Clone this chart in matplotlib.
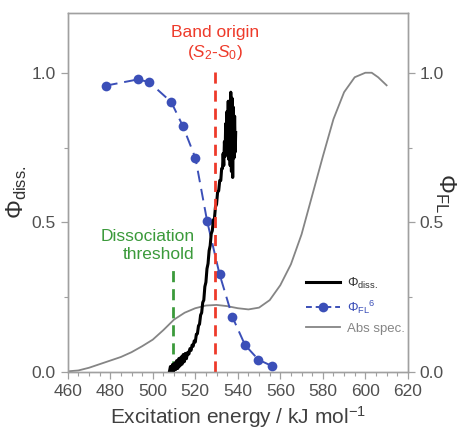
import matplotlib
matplotlib.use("Agg")
import matplotlib.pyplot as plt
from matplotlib.lines import Line2D
from matplotlib.ticker import MultipleLocator, FixedLocator

plt.rcParams['font.family'] = ['Liberation Sans', 'DejaVu Sans']
plt.rcParams['mathtext.fontset'] = 'custom'
plt.rcParams['mathtext.rm'] = 'Liberation Sans'
plt.rcParams['mathtext.it'] = 'Liberation Sans:italic'
plt.rcParams['mathtext.bf'] = 'Liberation Sans:bold'

# ---- data ----
fl_x = [478.0, 493.2, 498.4, 508.7, 514.2, 520.1, 525.6, 531.4, 537.5, 543.4, 549.7, 556.3]
fl_y = [0.957, 0.978, 0.968, 0.902, 0.821, 0.714, 0.503, 0.327, 0.183, 0.090, 0.041, 0.019]

abs_x = [460, 465, 470, 475, 480, 485, 490, 495, 500, 505, 510, 515, 520, 525, 530,
         535, 540, 545, 550, 555, 560, 565, 570, 575, 580, 585, 590, 595, 600, 603, 606, 610]
abs_y = [0.002, 0.005, 0.014, 0.026, 0.038, 0.050, 0.066, 0.086, 0.108, 0.140, 0.175,
         0.198, 0.213, 0.222, 0.224, 0.220, 0.213, 0.209, 0.215, 0.240, 0.290, 0.360,
         0.460, 0.590, 0.720, 0.845, 0.935, 0.985, 1.000, 1.000, 0.985, 0.958]

diss_x = [507.8, 508.3, 508.8, 509.3, 509.8, 510.3, 510.8, 511.3, 511.8, 512.3, 512.8,
          513.3, 513.8, 514.3, 514.8, 515.3, 515.8, 516.5, 517.0, 517.5, 518.0, 518.5,
          519.0, 519.5, 520.0, 520.5, 521.0, 521.5, 522.0, 522.5, 523.0, 523.5, 524.0,
          524.5, 525.0, 525.5, 526.0, 526.5, 527.0, 527.5, 528.0, 528.5, 529.0, 529.5,
          530.0, 530.5, 531.0, 531.5, 532.0, 532.4, 532.8, 533.1, 533.4, 533.7, 534.0,
          534.3, 534.6, 534.9, 535.2, 535.5, 535.8, 536.1, 536.4, 536.7, 537.0, 537.3,
          537.6, 537.9, 538.2, 538.5, 538.8, 539.0]
diss_y = [0.000, 0.018, 0.000, 0.025, 0.002, 0.030, 0.008, 0.038, 0.012, 0.045, 0.020,
          0.050, 0.026, 0.058, 0.034, 0.062, 0.044, 0.066, 0.060, 0.078, 0.072, 0.090,
          0.086, 0.104, 0.100, 0.126, 0.128, 0.154, 0.160, 0.190, 0.198, 0.232, 0.240,
          0.285, 0.300, 0.345, 0.362, 0.405, 0.422, 0.462, 0.472, 0.508, 0.512, 0.552,
          0.560, 0.602, 0.605, 0.640, 0.640, 0.680, 0.680, 0.730, 0.690, 0.770, 0.720,
          0.830, 0.730, 0.870, 0.750, 0.905, 0.710, 0.890, 0.690, 0.935, 0.670, 0.915,
          0.650, 0.885, 0.715, 0.855, 0.735, 0.800]

band_origin_x = 529.4
band_origin_top = 1.01
threshold_x = 509.5
threshold_top = 0.352

x_ticks = [460, 480, 500, 520, 540, 560, 580, 600, 620]
y_ticks = [0.0, 0.5, 1.0]
y_ticklabels = ['0.0', '0.5', '1.0']

# ---- colors ----
BLUE = '#3b4fb8'
RED = '#ee3a2a'
GREEN = '#3b9a3b'
GRAY = '#858585'
SPINE = '#a0a0a0'
TXT = '#505050'

fig = plt.figure(figsize=(4.64, 4.30), dpi=100)
ax = fig.add_axes([0.146, 0.135, 0.733, 0.835])

ax.plot(abs_x, abs_y, color=GRAY, lw=1.3, zorder=2)
ax.plot([threshold_x, threshold_x], [0, threshold_top], color=GREEN, lw=2.0,
        dashes=(4, 2.5), zorder=3)
ax.plot(fl_x, fl_y, color=BLUE, lw=1.4, dashes=(6, 3.5), marker='o', ms=7,
        markeredgewidth=0, zorder=4)
ax.plot(diss_x, diss_y, color='black', lw=2.2, zorder=5)
ax.plot([band_origin_x, band_origin_x], [0, band_origin_top], color=RED, lw=2.0,
        dashes=(4, 2.5), zorder=6)

ax.set_xlim(460, 620)
ax.set_ylim(0, 1.2)
ax.xaxis.set_major_locator(FixedLocator(x_ticks))
ax.xaxis.set_minor_locator(MultipleLocator(5))
ax.set_yticks(y_ticks)
ax.set_yticklabels(y_ticklabels)
ax.yaxis.set_minor_locator(FixedLocator([0.25, 0.75]))

ax2 = ax.twinx()
ax2.set_ylim(0, 1.2)
ax2.set_yticks(y_ticks)
ax2.set_yticklabels(y_ticklabels)
ax2.yaxis.set_minor_locator(FixedLocator([0.25, 0.75]))

for a in (ax, ax2):
    for s in a.spines.values():
        s.set_color(SPINE)
        s.set_linewidth(1.0)
    a.tick_params(which='major', length=5, width=0.9, color=SPINE, labelcolor=TXT,
                  labelsize=12.5, direction='out')
    a.tick_params(which='minor', length=3, width=0.8, color=SPINE, direction='out')

ax.set_xlabel('Excitation energy / kJ mol$^{-1}$', fontsize=15, color='#404040', labelpad=4)
ax.set_ylabel(r'$\Phi_{\mathrm{diss.}}$', fontsize=17, color='#303030', labelpad=2)
ax2.set_ylabel(r'$\Phi_{\mathrm{FL}}$', fontsize=17, color='#303030', rotation=270,
               labelpad=10)

ax.text(band_origin_x, 1.133, 'Band origin', color=RED, fontsize=12.5,
        ha='center', va='center')
ax.text(band_origin_x, 1.067, r'($S_{\mathit{2}}$-$S_{\mathit{0}}$)', color=RED,
        fontsize=12.5, ha='center', va='center')
ax.text(519.8, 0.453, 'Dissociation', color=GREEN, fontsize=12.5,
        ha='right', va='center')
ax.text(519.8, 0.393, 'threshold', color=GREEN, fontsize=12.5,
        ha='right', va='center')

handles = [
    Line2D([], [], color='black', lw=2.2),
    Line2D([], [], color=BLUE, lw=1.4, dashes=(3, 2), marker='o', ms=7,
           markeredgewidth=0),
    Line2D([], [], color=GRAY, lw=1.3),
]
labels = [r'$\Phi_{\mathrm{diss.}}$', r'$\Phi_{\mathrm{FL}}$$^6$', 'Abs spec.']
leg = ax.legend(handles, labels, loc='center left', bbox_to_anchor=(0.70, 0.185),
                frameon=False, fontsize=9.5, handlelength=2.6, handletextpad=0.5,
                labelspacing=0.55, borderpad=0, borderaxespad=0)
for t, c in zip(leg.get_texts(), ['#333333', BLUE, GRAY]):
    t.set_color(c)

fig.savefig('out.png', dpi=100)
